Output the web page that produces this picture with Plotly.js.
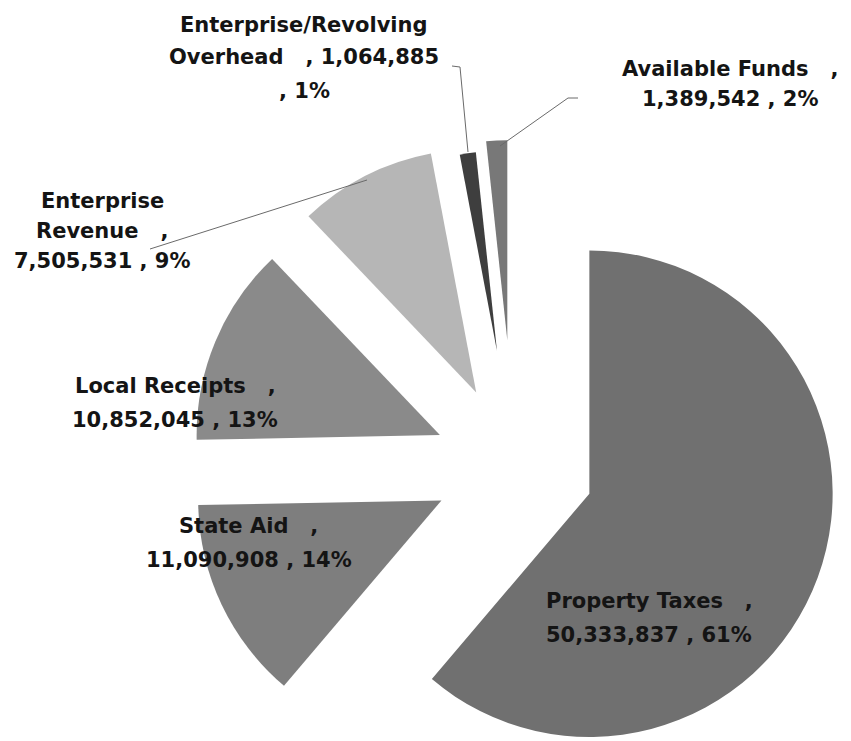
<!DOCTYPE html>
<html>
<head>
<meta charset="utf-8">
<script src="https://cdn.plot.ly/plotly-3.0.1.min.js"></script>
<style>
  html, body { margin: 0; padding: 0; background: #ffffff; overflow: hidden; }
  #chart { width: 851px; height: 800px; }
</style>
</head>
<body>
<div id="chart"></div>
<script>
// ---- data ----
const labels = ['Property Taxes', 'State Aid', 'Local Receipts', 'Enterprise Revenue', 'Enterprise/Revolving Overhead', 'Available Funds'];
const values = [50333837, 11090908, 10852045, 7505531, 1064885, 1389542];
const percents = [61, 14, 13, 9, 1, 2];

// ---- style ----
const W = 851, H = 800;
const CLEAR = 'rgba(0,0,0,0)';
const mainColors = ['#707070', '#7e7e7e', '#8a8a8a', '#b6b6b6', CLEAR, CLEAR];
const mainPull   = [0.33, 0.33, 0.33, 0.34, 0, 0];
const smallColors = [CLEAR, CLEAR, CLEAR, CLEAR, '#3e3e3e', '#787878'];
const smallPull   = [0, 0, 0, 0, 0.58, 0.63];
const domain = {x: [188 / W, 840 / W], y: [1 - 792 / H, 1 - 140 / H]};

const px = v => v / W;
const py = v => 1 - v / H;

const SEP = '\u00a0\u00a0\u00a0,';
const fmt = v => v.toLocaleString('en-US');

// label wrapping and placement (centre x, baselines)
const labelLayout = [
  {x: 649, ys: [608, 642], wrap: (n, v, p) => [n + SEP, v + ' , ' + p]},
  {x: 249, ys: [533, 567], wrap: (n, v, p) => [n + SEP, v + ' , ' + p]},
  {x: 175, ys: [393, 427], wrap: (n, v, p) => [n + SEP, v + ' , ' + p]},
  {x: 102, ys: [208, 238, 268], wrap: (n, v, p) => { const w = n.split(' '); return [w[0], w[1] + SEP, v + ' , ' + p]; }},
  {x: 304, ys: [32, 64, 98], wrap: (n, v, p) => { const w = n.split(' '); return [w[0], w[1] + SEP + ' ' + v, ', ' + p]; }},
  {x: 730, ys: [76, 106], wrap: (n, v, p) => [n + SEP, v + ' , ' + p]}
];

const annotations = [];
labels.forEach((name, i) => {
  const L = labelLayout[i];
  const lines = L.wrap(name, fmt(values[i]), percents[i] + '%');
  lines.forEach((t, k) => {
    annotations.push({
      xref: 'paper', yref: 'paper',
      x: px(L.x), y: py(L.ys[k] - 7),
      xanchor: 'center', yanchor: 'middle',
      text: t, showarrow: false,
      font: {family: 'DejaVu Sans, sans-serif', size: 21, color: '#141414', weight: 'bold'}
    });
  });
});

// leader lines
const leaders = [
  [[150, 249], [367, 180]],
  [[452, 66], [460, 67], [468, 152]],
  [[500, 146], [568, 98], [578, 98]]
];
const shapes = leaders.map(pts => ({
  type: 'path', xref: 'paper', yref: 'paper',
  path: pts.map((p, k) => (k ? 'L' : 'M') + px(p[0]) + ',' + py(p[1])).join(' '),
  line: {color: '#6a6a6a', width: 1}
}));

const common = {
  type: 'pie', labels: labels, values: values, sort: false,
  direction: 'clockwise', rotation: 0, textinfo: 'none',
  hoverinfo: 'none', showlegend: false, domain: domain
};

const traces = [
  Object.assign({}, common, {marker: {colors: mainColors, line: {width: 0}}, pull: mainPull}),
  Object.assign({}, common, {marker: {colors: smallColors, line: {width: 0}}, pull: smallPull})
];

const layout = {
  width: W, height: H,
  margin: {l: 0, r: 0, t: 0, b: 0},
  paper_bgcolor: '#ffffff',
  plot_bgcolor: '#ffffff',
  showlegend: false,
  annotations: annotations,
  shapes: shapes
};

Plotly.newPlot('chart', traces, layout, {displayModeBar: false, staticPlot: true});
</script>
</body>
</html>
